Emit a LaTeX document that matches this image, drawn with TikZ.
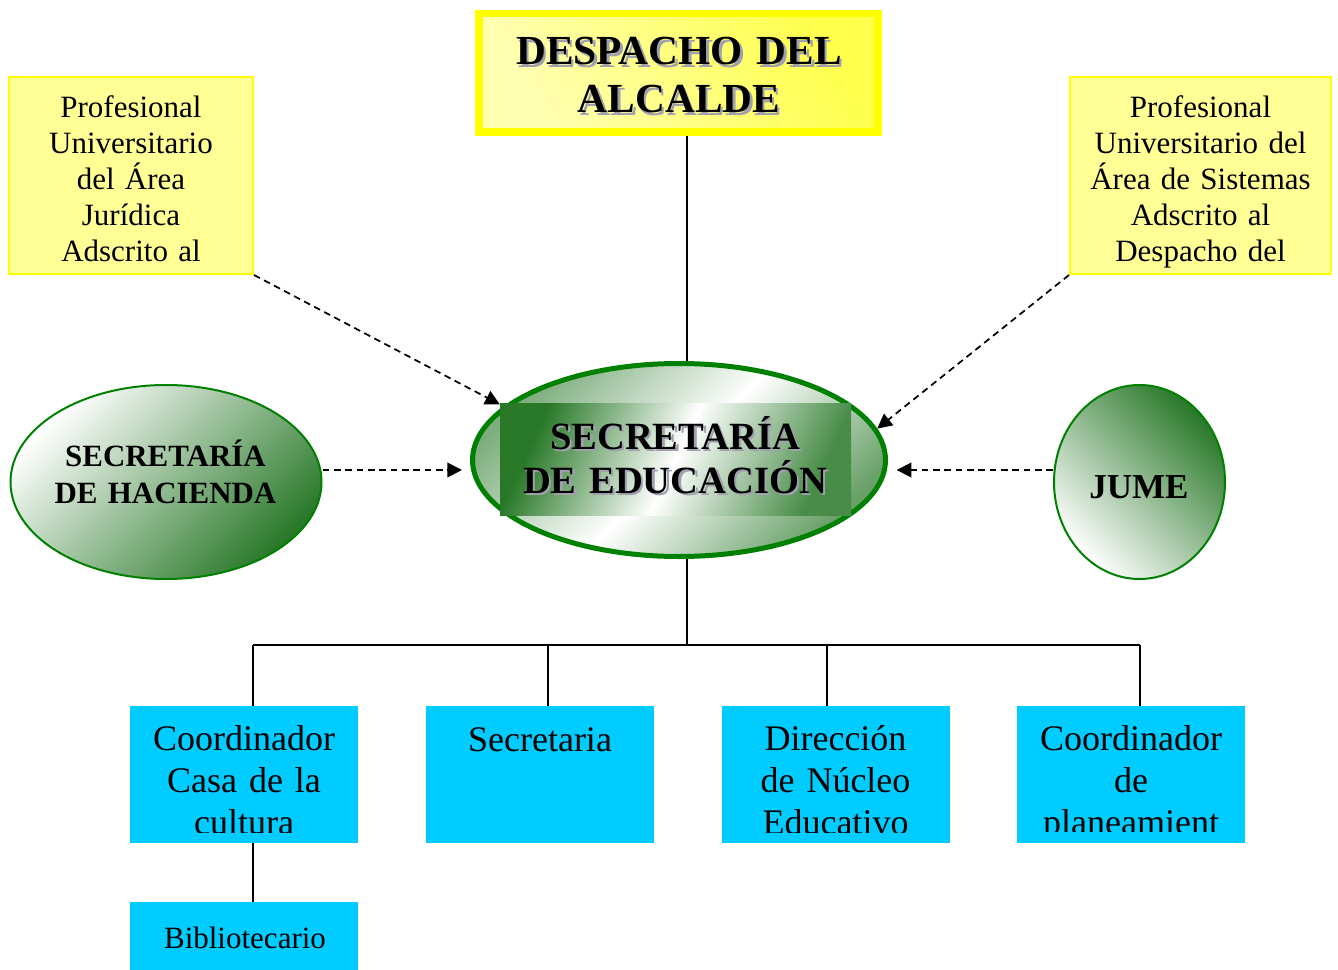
\documentclass[tikz,border=0pt]{standalone}
\usepackage{fontspec}
\setmainfont{Liberation Serif}
\usetikzlibrary{arrows.meta,shapes.geometric,calc}
\definecolor{ybord}{RGB}{255,255,0}
\definecolor{yfill}{RGB}{255,255,150}
\definecolor{gline}{RGB}{0,128,0}
\definecolor{gdark}{RGB}{40,120,40}
\definecolor{cyanbox}{RGB}{0,204,255}
\definecolor{shadowgray}{RGB}{160,160,175}
\newcommand\yfont{\fontsize{23.25}{27}\selectfont}
\newcommand\bxfont{\fontsize{27}{31.5}\selectfont}
\newcommand\ttlfont{\bfseries\fontsize{31}{36}\selectfont}
\newcommand\secfont{\bfseries\fontsize{28.9}{33}\selectfont}
\newcommand\hacfont{\bfseries\fontsize{23.2}{27.75}\selectfont}
\newcommand\jumefont{\bfseries\fontsize{26.25}{30}\selectfont}
\begin{document}
\begin{tikzpicture}[x=0.75pt,y=-0.75pt,
  yellowbox/.style={rectangle, fill=yfill, draw=ybord, line width=1.5pt, inner sep=0pt},
  bluebox/.style={rectangle, fill=cyanbox, inner sep=0pt, minimum width=171pt},
  txt/.style={inner sep=0pt, text width=300pt, align=center, anchor=base},
  shadowtxt/.style={txt, text=shadowgray},
  conn/.style={line width=1.3pt},
  dasharrow/.style={line width=1.3pt, dash pattern=on 5pt off 3.5pt, -{Triangle[length=11pt,width=11pt]}},
  greenoval/.style={ellipse, draw=gline, inner sep=0pt}
]
\useasboundingbox (0,0) rectangle (1338,970);
\fill[white] (0,0) rectangle (1338,970);

% Despacho del alcalde
\node[rectangle, fill=ybord, inner sep=0pt, minimum width=305.25pt, minimum height=94.5pt] (despacho) at (678.5,73) {};
\shade[left color=yellow!30!white, right color=yellow!70!white, shading angle=120] (483,18) rectangle (874,128);
\node[shadowtxt, font=\ttlfont] (despacho-s) at (681.5,68) {DESPACHO DEL\\ALCALDE};
\node[txt, font=\ttlfont] (despacho-t) at (679,65) {DESPACHO DEL\\ALCALDE};

% Yellow side boxes
\node[yellowbox, minimum width=183pt, minimum height=147.75pt] (profjur) at (131,175.5) {};
\node[txt, font=\yfont] (profjur-t) at (131,118) {Profesional\\Universitario\\del Área\\Jurídica\\Adscrito al};
\node[yellowbox, minimum width=195.75pt, minimum height=147.75pt] (profsis) at (1200.5,175.5) {};
\node[txt, font=\yfont] (profsis-t) at (1200.5,118) {Profesional\\Universitario del\\Área de Sistemas\\Adscrito al\\Despacho del};

% Secretaria de educacion
\node[greenoval, line width=3.75pt, minimum width=309.75pt, minimum height=144.75pt,
      top color=gdark!60, bottom color=gdark!70, middle color=white, shading angle=45] (secretaria) at (679,460) {};
\shade[left color=gdark, right color=gdark!85, middle color=white, shading angle=65] (500,403) rectangle (851,515);
\node[shadowtxt, font=\secfont] (secretaria-s) at (677.5,451.5) {SECRETARÍA\\DE EDUCACIÓN};
\node[txt, font=\secfont] (secretaria-t) at (675,449) {SECRETARÍA\\DE EDUCACIÓN};

% Hacienda and JUME
\node[greenoval, line width=1.5pt, minimum width=233.25pt, minimum height=145.5pt,
      top color=white, bottom color=gdark, shading angle=45] (hacienda) at (166,482) {};
\node[txt, font=\hacfont] (hacienda-t) at (165.5,466) {SECRETARÍA\\DE HACIENDA};
\node[greenoval, line width=1.5pt, minimum width=128.25pt, minimum height=145.5pt,
      top color=gdark, bottom color=white, shading angle=-45] (jume) at (1139.5,482) {};
\node[txt, font=\jumefont] (jume-t) at (1139,498) {JUME};

% Blue boxes
\node[bluebox, minimum height=102.75pt] (coordcasa) at (244,774.5) {};
\node[bluebox, minimum height=102.75pt] (secretaria2) at (540,774.5) {};
\node[bluebox, minimum height=102.75pt] (direccion) at (835.5,774.5) {};
\node[bluebox, minimum height=102.75pt] (planeamiento) at (1131,774.5) {};
\node[bluebox, minimum height=52.5pt] (biblio) at (244,937) {};

\begin{scope}
\clip (130,706) rectangle (358,832);
\node[txt, font=\bxfont] (coordcasa-t) at (244,750) {Coordinador\\Casa de la\\cultura};
\end{scope}
\node[txt, font=\bxfont] (secretaria2-t) at (540,751) {Secretaria};
\begin{scope}
\clip (722,706) rectangle (949,832);
\node[txt, font=\bxfont] (direccion-t) at (835.5,750) {Dirección\\de Núcleo\\Educativo};
\end{scope}
\begin{scope}
\clip (1017,706) rectangle (1245,831);
\node[txt, font=\bxfont] (planeamiento-t) at (1131,750) {Coordinador\\de\\planeamient};
\end{scope}
\node[txt, font=\yfont] (biblio-t) at (245,948) {Bibliotecario};

% Connectors
\coordinate (trunk) at (687,0);
\coordinate (hy) at (0,470);
\coordinate (bus) at (687,645);
\coordinate (b1) at (253,645);
\coordinate (b2) at (548,645);
\coordinate (b3) at (827,645);
\coordinate (b4) at (1140,645);
\draw[conn] (despacho.south -| trunk) -- (secretaria.north -| trunk);
\draw[conn] (secretaria.south -| trunk) -- (bus);
\draw[conn] (b1) -- (b4);
\draw[conn] (b1) -- (coordcasa.north -| b1);
\draw[conn] (b2) -- (secretaria2.north -| b2);
\draw[conn] (b3) -- (direccion.north -| b3);
\draw[conn] (b4) -- (planeamiento.north -| b4);
\draw[conn] (coordcasa.south -| b1) -- (biblio.north -| b1);

\draw[dasharrow, shorten >=3pt] (profjur.south east) -- (secretaria.163);
\draw[dasharrow] (profsis.south west) -- (secretaria.9);
\draw[dasharrow, shorten >=6pt] (hacienda.east |- hy) -- (secretaria.west |- hy);
\draw[dasharrow, shorten >=6.5pt] (jume.west |- hy) -- (secretaria.east |- hy);
\end{tikzpicture}
\end{document}
